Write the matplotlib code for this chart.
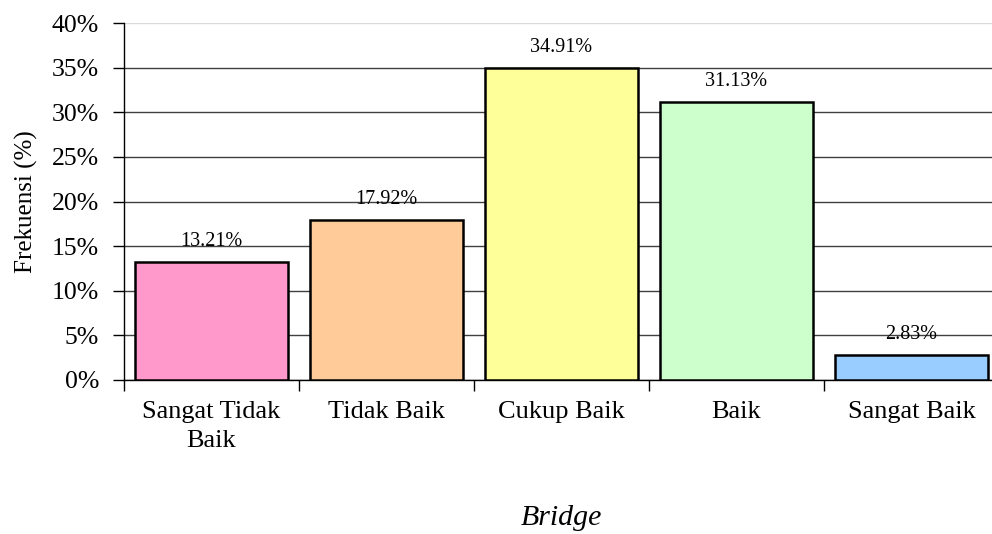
import matplotlib
matplotlib.use('Agg')
import matplotlib.pyplot as plt

# Data
categories = ['Sangat Tidak\nBaik', 'Tidak Baik', 'Cukup Baik', 'Baik', 'Sangat Baik']
values = [13.21, 17.92, 34.91, 31.13, 2.83]
colors = ['#FF99CC', '#FFCC99', '#FFFF99', '#CCFFCC', '#99CCFF']
yticks = [0, 5, 10, 15, 20, 25, 30, 35, 40]

plt.rcParams['font.family'] = ['Liberation Serif', 'DejaVu Serif']

fig = plt.figure(figsize=(9.92, 5.34), dpi=100)
ax = fig.add_axes([124 / 992, 154 / 534, 875 / 992, 357 / 534])

x = list(range(len(categories)))
ax.bar(x, values, width=0.87, color=colors, edgecolor='black', linewidth=1.8, zorder=3)

# Value labels above bars
for xi, v in zip(x, values):
    ax.annotate(f'{v:.2f}%', (xi, v), xytext=(0, 8), textcoords='offset points',
                ha='center', va='bottom', fontsize=14.5)

ax.set_xlim(-0.5, len(categories) - 0.5)
ax.set_ylim(0, 40)
ax.set_yticks(yticks)
ax.set_yticklabels([f'{t}%' for t in yticks], fontsize=18.5)

ax.set_xticks(x)
ax.set_xticklabels(categories, fontsize=19, linespacing=1.45)
ax.set_xticks([i - 0.5 for i in range(len(categories) + 1)], minor=True)
ax.tick_params(axis='x', which='major', length=0, pad=15)
ax.tick_params(axis='x', which='minor', length=8, width=1, direction='out')
ax.tick_params(axis='y', length=8, width=1, direction='out', pad=10)

# Gridlines
ax.grid(axis='y', color='#404040', linewidth=1, zorder=0)
ax.set_axisbelow(True)
ax.get_ygridlines()[-1].set_color('#d9d9d9')

for side in ['top', 'right']:
    ax.spines[side].set_visible(False)
ax.spines['left'].set_linewidth(1)
ax.spines['bottom'].set_linewidth(1)

ax.set_ylabel('Frekuensi (%)', fontsize=18, labelpad=10)
ax.set_xlabel('Bridge', fontsize=21.5, style='italic', labelpad=38)

fig.savefig('out.png', dpi=100)
plt.close(fig)
